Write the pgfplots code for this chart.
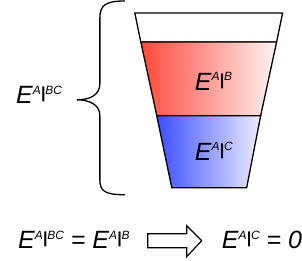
\documentclass[border=0pt]{standalone}
\usepackage{pgfplots}
\pgfplotsset{compat=1.18}
\usepackage{fontspec}
\setmainfont{Liberation Sans}
\definecolor{redL}{RGB}{255,72,58}
\definecolor{redR}{RGB}{255,244,244}
\definecolor{blueL}{RGB}{60,78,255}
\definecolor{blueR}{RGB}{238,238,255}
\newcommand\sbar{\raisebox{-4.5pt}{\fontsize{16}{16}\selectfont\bfseries|}}
\newcommand\Es[2]{{\fontsize{25}{30}\selectfont\itshape E}\raisebox{9.4pt}{\fontsize{12}{14}\selectfont\itshape #1\sbar#2}}
\begin{document}
\begin{tikzpicture}
\begin{axis}[width=302pt,height=261pt,scale only axis,xmin=0,xmax=302,ymin=0,ymax=261,y dir=reverse,hide axis,clip=false]
\addplot[draw=none,fill=white] coordinates {(0,0)(302,0)(302,261)(0,261)} -- cycle;
\addplot[black,line width=1.3pt,fill=white] coordinates {(135,13)(283,13)(277,42)(141,42)} -- cycle;
\addplot[black,line width=1.3pt,left color=redL,right color=redR] coordinates {(141,42)(277,42)(261,116)(157,116)} -- cycle;
\addplot[black,line width=1.3pt,left color=blueL,right color=blueR] coordinates {(157,116)(261,116)(247,188)(172,188)} -- cycle;
\addplot[black,line width=1.2pt,fill=white] coordinates {(148,234)(187,234)(187,226)(202,241)(187,257)(187,248)(148,248)} -- cycle;
\draw[line width=1.3pt] (axis cs:125,1) .. controls (axis cs:106,1) and (axis cs:100,5) .. (axis cs:100,18) -- (axis cs:100,84) .. controls (axis cs:100,95) and (axis cs:90,100) .. (axis cs:77,100) .. controls (axis cs:90,100) and (axis cs:100,105) .. (axis cs:100,116) -- (axis cs:100,180) .. controls (axis cs:100,192) and (axis cs:106,195) .. (axis cs:125,195);
\node[anchor=base west,inner sep=0] at (axis cs:195,90.5) {\Es{A}{B}};
\node[anchor=base west,inner sep=0] at (axis cs:195,160.5) {\Es{A}{C}};
\node[anchor=base west,inner sep=0] at (axis cs:16,104) {\Es{A}{BC}};
\node[anchor=base west,inner sep=0] at (axis cs:18,249) {\Es{A}{BC}\fontsize{25}{30}\selectfont\itshape{} = \Es{A}{B}};
\node[anchor=base west,inner sep=0] at (axis cs:222,249) {\Es{A}{C}\fontsize{25}{30}\selectfont\itshape{} = 0};
\end{axis}
\end{tikzpicture}
\end{document}
